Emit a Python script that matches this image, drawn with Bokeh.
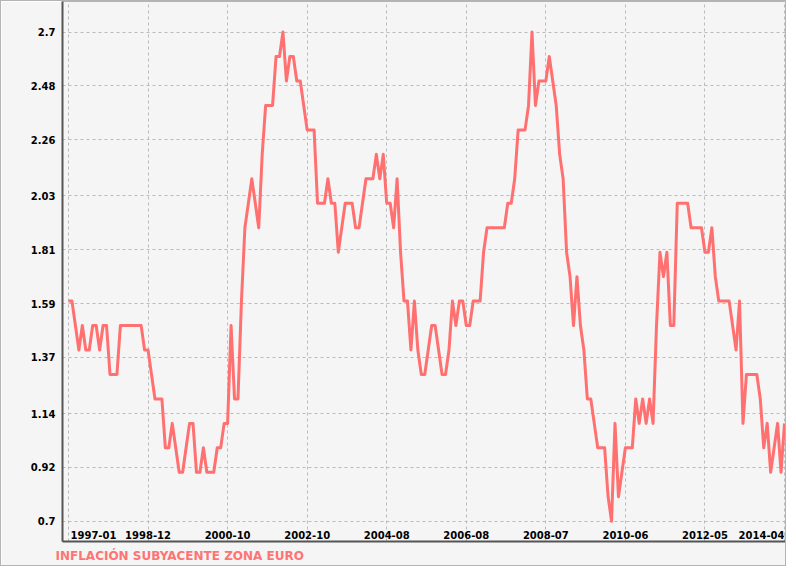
from bokeh.plotting import figure
from bokeh.models import ColumnDataSource, FixedTicker, Range1d
from bokeh.core.properties import value
from bokeh.embed import file_html
from bokeh.resources import INLINE

# ---- data -------------------------------------------------------------
x_tick_labels = ["1997-01", "1998-12", "2000-10", "2002-10", "2004-08",
                 "2006-08", "2008-07", "2010-06", "2012-05", "2014-04"]
x_tick_index = [0, 23, 46, 69, 92, 115, 138, 161, 184, 207]
y_tick_labels = ["0.7", "0.92", "1.14", "1.37", "1.59",
                 "1.81", "2.03", "2.26", "2.48", "2.7"]

inflation = [
    1.6, 1.6, 1.5, 1.4, 1.5, 1.4, 1.4, 1.5, 1.5, 1.4, 1.5, 1.5,
    1.3, 1.3, 1.3, 1.5, 1.5, 1.5, 1.5, 1.5, 1.5, 1.5, 1.4, 1.4,
    1.3, 1.2, 1.2, 1.2, 1.0, 1.0, 1.1, 1.0, 0.9, 0.9, 1.0, 1.1,
    1.1, 0.9, 0.9, 1.0, 0.9, 0.9, 0.9, 1.0, 1.0, 1.1, 1.1, 1.5,
    1.2, 1.2, 1.6, 1.9, 2.0, 2.1, 2.0, 1.9, 2.2, 2.4, 2.4, 2.4,
    2.6, 2.6, 2.7, 2.5, 2.6, 2.6, 2.5, 2.5, 2.4, 2.3, 2.3, 2.3,
    2.0, 2.0, 2.0, 2.1, 2.0, 2.0, 1.8, 1.9, 2.0, 2.0, 2.0, 1.9,
    1.9, 2.0, 2.1, 2.1, 2.1, 2.2, 2.1, 2.2, 2.0, 2.0, 1.9, 2.1,
    1.8, 1.6, 1.6, 1.4, 1.6, 1.4, 1.3, 1.3, 1.4, 1.5, 1.5, 1.4,
    1.3, 1.3, 1.4, 1.6, 1.5, 1.6, 1.6, 1.5, 1.5, 1.6, 1.6, 1.6,
    1.8, 1.9, 1.9, 1.9, 1.9, 1.9, 1.9, 2.0, 2.0, 2.1, 2.3, 2.3,
    2.3, 2.4, 2.7, 2.4, 2.5, 2.5, 2.5, 2.6, 2.5, 2.4, 2.2, 2.1,
    1.8, 1.7, 1.5, 1.7, 1.5, 1.4, 1.2, 1.2, 1.1, 1.0, 1.0, 1.0,
    0.8, 0.7, 1.1, 0.8, 0.9, 1.0, 1.0, 1.0, 1.2, 1.1, 1.2, 1.1,
    1.2, 1.1, 1.5, 1.8, 1.7, 1.8, 1.5, 1.5, 2.0, 2.0, 2.0, 2.0,
    1.9, 1.9, 1.9, 1.9, 1.8, 1.8, 1.9, 1.7, 1.6, 1.6, 1.6, 1.6,
    1.5, 1.4, 1.6, 1.1, 1.3, 1.3, 1.3, 1.3, 1.2, 1.0, 1.1, 0.9,
    1.0, 1.1, 0.9, 1.1,
]
months = list(range(len(inflation)))

title_text = "INFLACIÓN SUBYACENTE ZONA EURO"

# ---- style ------------------------------------------------------------
BG = "#F5F5F5"
LINE = "#FF7070"
GRID = "#BBBBBB"
AXIS = "#555555"
FONT = "DejaVu Sans"

y_ticks = [float(s) for s in y_tick_labels]
y_range = Range1d(0.617, 2.825)
x_range = Range1d(-1.735, 207.58)

p = figure(width=786, height=566, output_backend="svg", toolbar_location=None,
           x_range=x_range, y_range=y_range,
           title=title_text, title_location="below",
           min_border_left=61, min_border_right=1, min_border_top=0,
           min_border_bottom=25,
           background_fill_color=BG, border_fill_color=BG)

p.styles = {"border": "1px solid #B4B4B4"}
p.outline_line_color = "#B4B4B4"
p.outline_line_width = 1

p.line(months, inflation, line_color=LINE, line_width=3, line_join="round")

# axes
p.yaxis.ticker = FixedTicker(ticks=y_ticks)
p.yaxis.major_label_overrides = {t: s for t, s in zip(y_ticks, y_tick_labels)}
p.yaxis.major_label_text_font = FONT
p.yaxis.major_label_text_font_style = "bold"
p.yaxis.major_label_text_font_size = "10px"
p.yaxis.major_label_text_color = "black"
p.yaxis.major_label_standoff = 7
p.yaxis.major_tick_out = 0
p.yaxis.major_tick_in = 0
p.yaxis.minor_tick_out = 0
p.yaxis.minor_tick_in = 0
p.yaxis.axis_line_color = AXIS
p.yaxis.axis_line_width = 2

# the bottom axis keeps only its line; its labels are drawn inside the frame
p.xaxis.ticker = FixedTicker(ticks=[])
p.xaxis.major_tick_out = 0
p.xaxis.major_tick_in = 0
p.xaxis.minor_tick_out = 0
p.xaxis.minor_tick_in = 0
p.xaxis.axis_line_color = AXIS
p.xaxis.axis_line_width = 2
p.xgrid.ticker = FixedTicker(ticks=x_tick_index)

# grid
p.grid.grid_line_color = GRID
p.grid.grid_line_dash = "3 3"
p.grid.grid_line_width = 1

# x labels drawn inside the frame, just above the axis
lab_src = ColumnDataSource(dict(
    x=x_tick_index,
    text=x_tick_labels,
    align=["left"] + ["center"] * (len(x_tick_labels) - 2) + ["right"],
    xoff=[2] + [0] * (len(x_tick_labels) - 1),
))
p.text(x="x", y=y_range.start, text="text", source=lab_src,
       text_align="align", x_offset="xoff", y_offset=-3,
       text_baseline="bottom", text_font=value(FONT),
       text_font_style="bold", text_font_size="10px", text_color="black")

# title
p.title.align = "left"
p.title.offset = -7
p.title.text_font = FONT
p.title.text_font_style = "bold"
p.title.text_font_size = "12px"
p.title.text_color = "#FF7373"

open("out.html", "w").write(file_html(p, INLINE))
